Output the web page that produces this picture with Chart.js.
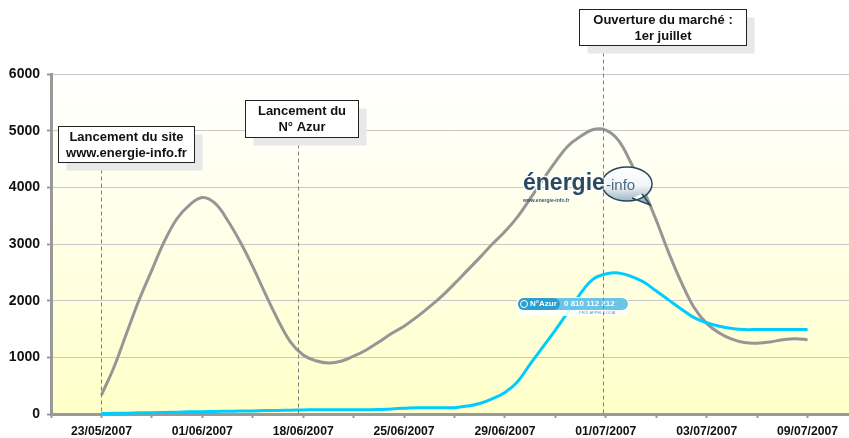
<!DOCTYPE html>
<html>
<head>
<meta charset="utf-8">
<style>
html, body { margin: 0; padding: 0; background: #fff; overflow: hidden; }
#wrap { width: 849px; height: 438px; overflow: hidden; }
</style>
<script src="https://cdn.jsdelivr.net/npm/chart.js@4"></script>
</head>
<body>
<div id="wrap"><canvas id="chart" width="858" height="438"></canvas></div>
<script>
const tick_dates = ["23/05/2007", "01/06/2007", "18/06/2007", "25/06/2007", "29/06/2007", "01/07/2007", "03/07/2007", "09/07/2007"];
const visits = [335, 830, 1430, 2020, 2540, 3050, 3450, 3690, 3820, 3720, 3420, 3040, 2600, 2120, 1660, 1270, 1040, 940, 900, 930, 1020, 1130, 1270, 1420, 1550, 1710, 1890, 2080, 2300, 2530, 2760, 3000, 3220, 3480, 3800, 4130, 4450, 4730, 4900, 5020, 5010, 4830, 4430, 3950, 3420, 2840, 2320, 1880, 1600, 1430, 1320, 1260, 1250, 1270, 1310, 1330, 1310];
const calls = [10, 12, 15, 20, 22, 28, 32, 38, 40, 45, 48, 52, 55, 60, 63, 68, 72, 75, 75, 75, 75, 75, 78, 90, 100, 110, 110, 110, 112, 140, 185, 270, 380, 570, 880, 1180, 1480, 1800, 2130, 2380, 2470, 2490, 2430, 2330, 2170, 2010, 1850, 1700, 1610, 1550, 1510, 1490, 1490, 1490, 1490, 1490, 1490];
const y_ticks = [0, 1000, 2000, 3000, 4000, 5000, 6000];

// 65 slots on the axis, a date label every 8th one starting at slot 4
let _labels = [];
for (let i=0; i<65; i++) {
    _labels.push("");
}
for (let i=0; i<tick_dates.length; i++) {
    _labels[4+i*8] = tick_dates[i];
}
// series start at slot 4
const _pad = [null, null, null, null];

const FONT = '"Liberation Sans", Arial, sans-serif';

// slot on the x axis, lines of the box, box left/top/right/bottom
const markers = [
    { slot: 4, lines: ["Lancement du site", "www.energie-info.fr"], box: [58.5, 126.5, 194.5, 162.5] },
    { slot: 19.6, lines: ["Lancement du", "N° Azur"], box: [245.5, 100.5, 358.5, 137.5] },
    { slot: 43.75, lines: ["Ouverture du marché :", "1er juillet"], box: [579.5, 9.5, 746.5, 45.5] },
];

const backgroundPlugin = {
    id: "plot_background",
    beforeDraw(chart) {
        let a = chart.chartArea;
        let ctx = chart.ctx;
        let g = ctx.createLinearGradient(0, a.top, 0, a.bottom);
        g.addColorStop(0, "#ffffff");
        g.addColorStop(0.5, "#ffffe6");
        g.addColorStop(1, "#ffffc8");
        ctx.save();
        ctx.fillStyle = g;
        ctx.fillRect(a.left, a.top, a.right-a.left, a.bottom-a.top);
        ctx.restore();
    }
};

function draw_logo(ctx) {
    // speech bubble
    let g = ctx.createLinearGradient(0, 167, 0, 204);
    g.addColorStop(0, "#ffffff");
    g.addColorStop(0.5, "#f2f6f8");
    g.addColorStop(1, "#8fa8ba");
    ctx.beginPath();
    ctx.ellipse(627, 184, 25, 17, 0, 0, Math.PI*2);
    ctx.moveTo(632, 198);
    ctx.lineTo(650, 205);
    ctx.lineTo(642, 194);
    ctx.fillStyle = g;
    ctx.fill();
    ctx.strokeStyle = "#27465c";
    ctx.lineWidth = 1.5;
    ctx.stroke();
    // wordmark
    ctx.textAlign = "left";
    ctx.textBaseline = "alphabetic";
    ctx.font = "bold 23px " + FONT;
    ctx.lineWidth = 3;
    ctx.strokeStyle = "rgba(255,255,255,0.9)";
    ctx.strokeText("énergie", 523, 190);
    ctx.fillStyle = "#2b4a60";
    ctx.fillText("énergie", 523, 190);
    ctx.font = "15px " + FONT;
    ctx.fillStyle = "#4b6a80";
    ctx.fillText("-info", 606, 190);
    ctx.font = "bold 5px " + FONT;
    ctx.fillStyle = "#2b5a80";
    ctx.fillText("www.energie-info.fr", 523, 202);
}

function draw_badge(ctx) {
    ctx.fillStyle = "rgba(255,255,255,0.85)";
    ctx.fillRect(517, 297, 111, 19);
    ctx.beginPath();
    ctx.roundRect(518, 298, 110, 12, 6);
    ctx.fillStyle = "#6cc4e6";
    ctx.fill();
    ctx.beginPath();
    ctx.roundRect(518, 298, 42, 12, 6);
    ctx.fillStyle = "#2a9fd0";
    ctx.fill();
    ctx.beginPath();
    ctx.arc(524, 304, 3.5, 0, Math.PI*2);
    ctx.strokeStyle = "#ffffff";
    ctx.lineWidth = 1;
    ctx.stroke();
    ctx.textAlign = "left";
    ctx.textBaseline = "middle";
    ctx.font = "bold 8px " + FONT;
    ctx.fillStyle = "#ffffff";
    ctx.fillText("N°Azur", 530, 304);
    ctx.fillText("0 810 112 212", 564, 304);
    ctx.font = "4px " + FONT;
    ctx.fillStyle = "#5a9fc0";
    ctx.fillText("PRIX APPEL LOCAL", 579, 313);
}

const annotationPlugin = {
    id: "annotations",
    afterDatasetsDraw(chart) {
        let ctx = chart.ctx;
        let x_scale = chart.scales.x;
        ctx.save();
        draw_logo(ctx);
        draw_badge(ctx);
        for (let m of markers) {
            let b = m.box;
            let _x = Math.round(x_scale.getPixelForValue(m.slot)) + 0.5;
            ctx.setLineDash([4, 3]);
            ctx.strokeStyle = "#808080";
            ctx.lineWidth = 1;
            ctx.beginPath();
            ctx.moveTo(_x, b[3]);
            ctx.lineTo(_x, chart.chartArea.bottom);
            ctx.stroke();
            ctx.setLineDash([]);
            ctx.fillStyle = "#e8e8e8";
            ctx.fillRect(b[0]+8, b[1]+8, b[2]-b[0], b[3]-b[1]);
            ctx.fillStyle = "#ffffff";
            ctx.fillRect(b[0], b[1], b[2]-b[0], b[3]-b[1]);
            ctx.strokeStyle = "#222222";
            ctx.strokeRect(b[0], b[1], b[2]-b[0], b[3]-b[1]);
            ctx.fillStyle = "#111111";
            ctx.font = "bold 13px " + FONT;
            ctx.textAlign = "center";
            ctx.textBaseline = "middle";
            let _cx = (b[0]+b[2])/2;
            ctx.fillText(m.lines[0], _cx, b[1]+11);
            ctx.fillText(m.lines[1], _cx, b[1]+27);
        }
        ctx.restore();
    }
};

let data = {
    labels: _labels,
    datasets: [{
        data: _pad.concat(calls),
        borderColor: "#00ccff",
        borderWidth: 3,
        tension: 0.4,
        pointRadius: 0,
        clip: false,
    }, {
        data: _pad.concat(visits),
        borderColor: "#969696",
        borderWidth: 3,
        tension: 0.4,
        pointRadius: 0,
    }]
};

let config = {
    type: "line",
    data: data,
    plugins: [backgroundPlugin, annotationPlugin],
    options: {
        responsive: false,
        animation: false,
        layout: {
            padding: { top: 74, left: 0, right: 0, bottom: 0 },
        },
        plugins: {
            legend: { display: false },
            title: { display: false },
            tooltip: { enabled: false },
        },
        scales: {
            x: {
                type: "category",
                offset: false,
                afterBuildTicks(scale) {
                    scale.ticks = scale.ticks.filter(t => t.value % 4 == 0);
                },
                afterFit(scale) {
                    scale.height = 24;
                    scale.paddingRight = 0;
                    scale.paddingLeft = 0;
                },
                border: { color: "#999999", width: 3 },
                grid: {
                    drawOnChartArea: false,
                    drawTicks: true,
                    tickLength: 4,
                    tickColor: "#999999",
                    tickWidth: 2,
                },
                ticks: {
                    autoSkip: false,
                    maxRotation: 0,
                    minRotation: 0,
                    padding: 6,
                    color: "#111111",
                    font: { family: FONT, size: 12.2, weight: "bold" },
                },
            },
            y: {
                min: 0,
                max: 6000,
                afterBuildTicks(scale) {
                    scale.ticks = y_ticks.map(v => ({ value: v }));
                },
                afterFit(scale) {
                    scale.width = 51;
                },
                border: { color: "#999999", width: 3 },
                grid: {
                    color: "#c8c8c8",
                    lineWidth: 1,
                    tickLength: 4,
                    tickColor: "#999999",
                    tickWidth: 2,
                },
                ticks: {
                    padding: 7,
                    color: "#111111",
                    font: { family: FONT, size: 14, weight: "bold" },
                    callback: v => String(v),
                },
            },
        },
    },
};

let _chart = new Chart(document.getElementById("chart"), config);
</script>
</body>
</html>
